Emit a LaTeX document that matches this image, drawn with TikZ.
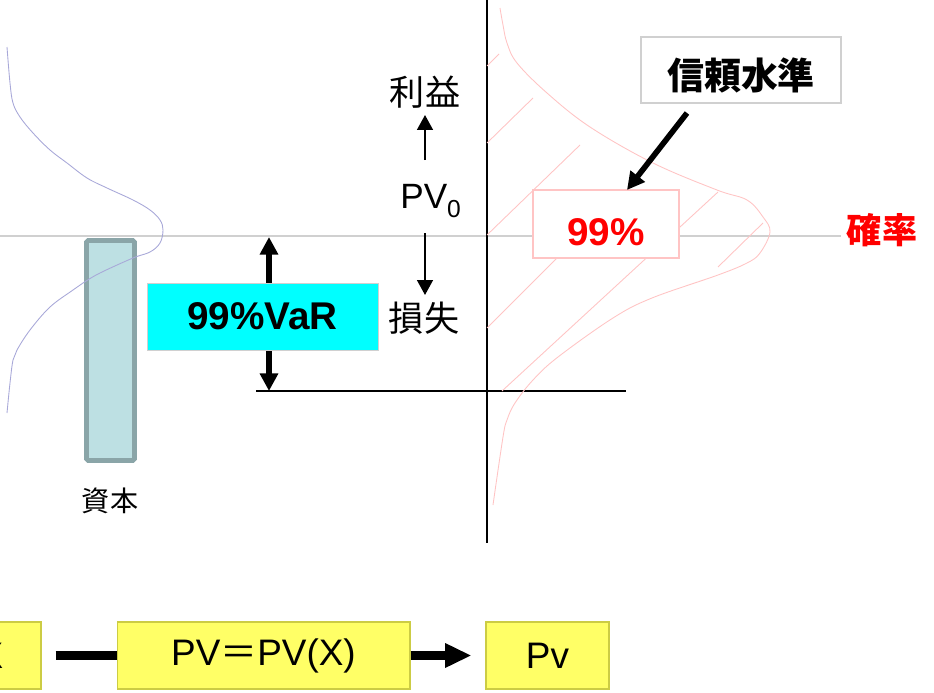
\documentclass[tikz,border=0pt]{standalone}
\usepackage{fontspec}
\setmainfont{Liberation Sans}
\newfontfamily\cjk{Noto Sans CJK JP}
\usetikzlibrary{arrows.meta}

\definecolor{gridgray}{HTML}{D0D0D0}
\definecolor{densblue}{HTML}{A8A8D8}
\definecolor{denspink}{HTML}{FFC4C4}
\definecolor{capfill}{HTML}{BDE0E3}
\definecolor{capline}{HTML}{8AA5A8}
\definecolor{varcyan}{HTML}{00FFFF}
\definecolor{yfill}{HTML}{FFFF66}
\definecolor{yline}{HTML}{CCCC44}

\begin{document}
\begin{tikzpicture}[x=0.02cm,y=-0.02cm,
    jp/.style={font=\fontsize{20pt}{24pt}\selectfont\cjk},
    jpbold/.style={font=\fontsize{21pt}{25pt}\selectfont\cjk\bfseries},
    lbl/.style={font=\fontsize{20pt}{24pt}\selectfont},
    ybox/.style={draw=yline,fill=yfill,line width=0.6pt,minimum height=1.34cm,inner sep=0pt,font=\fontsize{21pt}{25pt}\selectfont},
    thinarrow/.style={line width=1.1pt,-{Triangle[length=8.5pt,width=9pt]}},
    fatarrow/.style={line width=3.4pt,-{Triangle[length=10pt,width=10pt]}},
    link/.style={line width=5pt,shorten <=0.28cm}]
  \useasboundingbox (0,0) rectangle (934,693);
  \clip (0,0) rectangle (934,693);

  % axes
  \draw[gridgray,line width=0.6pt] (0,236) -- (841,236);
  \draw[line width=0.6pt] (487,0) -- (487,543);
  \draw[line width=0.6pt] (256,391) -- (626,391);

  % capital bar
  \draw[capline,fill=capfill,line width=2.8pt,rounded corners=1pt] (86.5,240.5) rectangle (134.5,460.5);
  \node[jp,font=\fontsize{16pt}{19pt}\selectfont\cjk] (capital) at (110,501) {資本};

  % density curves
  \draw[densblue,line width=0.5pt] plot[smooth,tension=0.6] coordinates {(7,47) (10,83) (13,103) (20,117) (33,133) (50,150) (67,163) (87,178) (107,188) (133,200) (150,210) (160,220) (163,230) (160,243) (150,252) (133,258) (100,273) (83,283) (73,290) (50,307) (30,330) (17,350) (13,360) (10,383) (7,413)};
  \draw[denspink,line width=0.5pt] plot[smooth,tension=0.6] coordinates {(500,8) (503,25) (507,43) (517,63) (547,93) (590,127) (653,163) (717,190) (747,200) (763,217) (770,232) (760,253) (747,263) (718,275) (652,298) (613,318) (558,357) (533,380) (515,403) (507,420) (503,437) (493,505)};
  \draw[denspink,line width=0.5pt] (487,66) -- (499,54);
  \draw[denspink,line width=0.5pt] (487,143) -- (533,98);
  \draw[denspink,line width=0.5pt] (487,235) -- (580,145);
  \draw[denspink,line width=0.5pt] (487,328) -- (558,257);
  \draw[denspink,line width=0.5pt] (502,391) -- (718,192);
  \draw[denspink,line width=0.5pt] (718,267) -- (763,223);

  % VaR span
  \coordinate (vartop) at (269,237);
  \coordinate (varbot) at (269,391);
  \draw[line width=3.4pt,{Triangle[length=10pt,width=10pt]}-{Triangle[length=10pt,width=10pt]}] (vartop) -- (varbot);
  \node[draw=gridgray,fill=varcyan,line width=0.5pt,minimum width=4.62cm,minimum height=1.34cm,inner sep=0pt,font=\fontsize{22pt}{26pt}\selectfont\bfseries] (var) at (262.5,316.5) {99\%VaR};

  % PV0 with profit / loss
  \node[jp] (profit) at (425,92) {利益};
  \node[lbl,anchor=base west,inner sep=0pt] (pv0) at (400,208) {PV\raisebox{-5.5pt}{\fontsize{14pt}{16pt}\selectfont 0}};
  \node[jp] (loss) at (424,318) {損失};
  \coordinate (upfrom) at (425,160);
  \coordinate (upto) at (425,115);
  \coordinate (downfrom) at (425,233);
  \coordinate (downto) at (425,295);
  \draw[thinarrow] (upfrom) -- (upto);
  \draw[thinarrow] (downfrom) -- (downto);

  % confidence level
  \node[draw=gridgray,fill=white,line width=0.6pt,minimum width=4cm,minimum height=1.32cm] (conf) at (741,70) {};
  \node[jpbold] (conftext) at (741,75) {信頼水準};
  \node[draw=denspink,fill=white,line width=0.6pt,minimum width=2.92cm,minimum height=1.36cm] (pct) at (606,224) {};
  \node[red,font=\fontsize{22pt}{26pt}\selectfont\bfseries] (pcttext) at (606,232) {99\%};
  \coordinate (conftail) at (687,113);
  \coordinate (pcttip) at (627,190);
  \draw[fatarrow,line width=3.2pt] (conftail) -- (pcttip);
  \node[red,jp,font=\fontsize{20pt}{24pt}\selectfont\cjk\bfseries] (prob) at (882,230) {確率};

  % bottom chain
  \node[ybox,minimum width=2cm] (xbox) at (-9,655.5) {X};
  \node[ybox,minimum width=5.86cm] (pvfun) at (263.5,655.5) {PV{\cjk ＝}PV(X)};
  \node[ybox,minimum width=2.46cm] (pvbox) at (547.5,655.5) {Pv};
  \draw[link] (xbox) -- (pvfun);
  \draw[link,shorten <=0pt,shorten >=0.28cm,-{Triangle[length=15pt,width=13pt]}] (pvfun) -- (pvbox);
\end{tikzpicture}
\end{document}
